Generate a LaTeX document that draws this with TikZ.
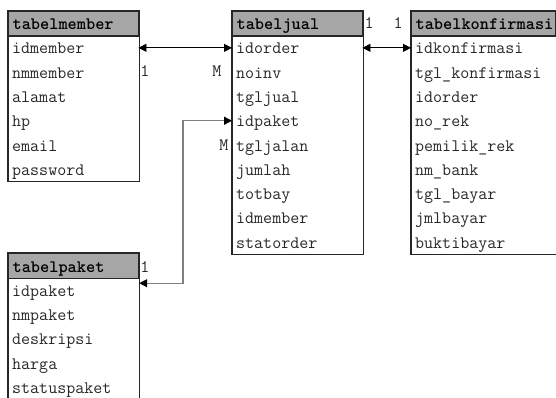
\documentclass[tikz,border=0pt]{standalone}
\usepackage{fontspec}
\usetikzlibrary{arrows.meta,fit}

\definecolor{hdrgray}{RGB}{166,166,166}
\definecolor{edge}{RGB}{38,38,38}
\definecolor{fkgray}{RGB}{128,128,128}
\definecolor{ink}{RGB}{40,40,40}

\newcommand\erfont{\ttfamily\fontsize{17.5}{20}\selectfont}

\tikzset{
  hdr/.style={draw=edge, fill=hdrgray, line width=1.2pt, anchor=north west,
    minimum height=25pt, inner xsep=4pt, inner ysep=0pt, align=left,
    font=\erfont\bfseries, text height=12.5pt, text depth=0.5pt, text=black},
  fieldrow/.style={anchor=north west, minimum height=24.3pt, inner xsep=4pt,
    inner ysep=0pt, align=left, font=\erfont, text=ink,
    text height=13pt, text depth=1pt},
  frame/.style={draw=edge, line width=1.2pt, inner sep=0pt},
  card/.style={anchor=base, inner sep=0pt, font=\erfont, text=ink},
  rel/.style={line width=0.8pt, draw=black, {Triangle[length=8pt,width=8pt]}-{Triangle[length=8pt,width=8pt]}},
  fk/.style={line width=1.3pt, draw=fkgray, {Triangle[length=8pt,width=8pt,color=black]}-{Triangle[length=8pt,width=8pt,color=black]}},
}

% \entity{name}{x}{y}{text width}{title}{number of fields}{fields}
\newcommand\entity[7]{%
  \node[hdr, text width=#4] (#1) at (#2,#3) {#5};
  \foreach \f [count=\i] in {#7} {
    \node[fieldrow, text width=#4] (#1-\i) at (#2,{#3+25+(\i-1)*24.3}) {\f};
  }
  \node[frame, fit=(#1)(#1-#6)] (#1-box) {};
}

\begin{document}
\begin{tikzpicture}[x=1pt, y=-1pt]
  \useasboundingbox (0,0) rectangle (556,398);

  \entity{member}{8}{10.5}{122pt}{tabelmember}{6}%
    {idmember,nmmember,alamat,hp,email,password}
  \entity{jual}{232}{10.5}{122pt}{tabeljual}{9}%
    {idorder,noinv,tgljual,idpaket,tgljalan,jumlah,totbay,idmember,statorder}
  \entity{konf}{411}{10.5}{136pt}{tabelkonfirmasi}{9}%
    {idkonfirmasi,tgl\_konfirmasi,idorder,no\_rek,pemilik\_rek,nm\_bank,tgl\_bayar,jmlbayar,buktibayar}
  \entity{paket}{8}{253}{122pt}{tabelpaket}{5}%
    {idpaket,nmpaket,deskripsi,harga,statuspaket}

  % relationships
  \draw[rel] (member-1.east) -- (jual-1.west);
  \draw[rel] (jual-1.east) -- (konf-1.west);

  \coordinate (paket-port) at ([yshift=-4pt]paket.south east);
  \coordinate (fk-elbow) at (183,0);
  \draw[fk] (paket-port) -| (fk-elbow |- jual-4.west) -- (jual-4.west);

  % cardinalities
  \node[card] (c-member) at (145,77) {1};
  \node[card] (c-jual-m) at (217,77) {M};
  \node[card] (c-jual-p) at (224,150.5) {M};
  \node[card] (c-paket) at (145,272) {1};
  \node[card] (c-jual-k) at (369,29) {1};
  \node[card] (c-konf) at (398,29) {1};
\end{tikzpicture}
\end{document}
